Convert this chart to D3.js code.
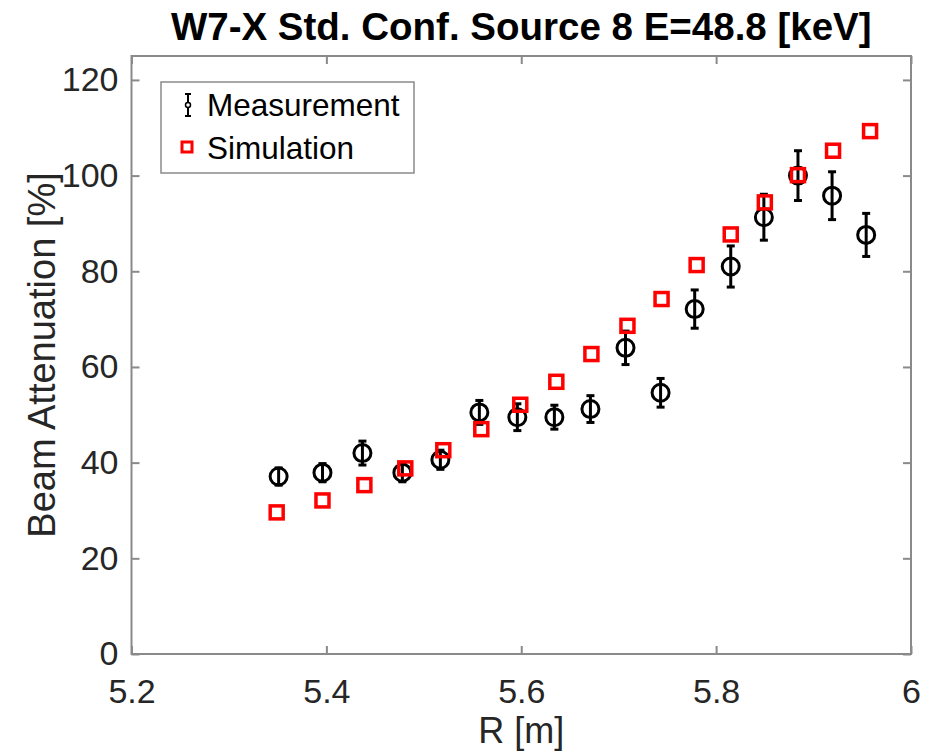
<!DOCTYPE html>
<html>
<head>
<meta charset="utf-8">
<script src="https://cdn.jsdelivr.net/npm/d3@7"></script>
<style>
  body { margin: 0; background: #fff; }
  svg { font-family: "Liberation Sans", Arial, Helvetica, sans-serif; }
</style>
</head>
<body>
<svg id="chart" width="928" height="753"></svg>
<script>
// measurement points (R in m, attenuation in %, +/- error)
const measR = [5.351, 5.396, 5.437, 5.478, 5.517, 5.557, 5.596, 5.634, 5.671, 5.707, 5.743, 5.778, 5.815, 5.849, 5.884, 5.919, 5.954];
const measVal = [37.1, 37.9, 42.0, 37.9, 40.6, 50.5, 49.5, 49.5, 51.2, 64.0, 54.6, 72.1, 81.0, 91.3, 100.0, 95.8, 87.6];
const measErr = [1.8, 1.9, 2.5, 1.9, 2.0, 2.5, 2.8, 2.5, 2.8, 3.5, 3.0, 4.0, 4.3, 4.8, 5.2, 5.0, 4.5];

// simulation points
const simR = [5.349, 5.396, 5.439, 5.481, 5.520, 5.559, 5.599, 5.636, 5.672, 5.709, 5.744, 5.780, 5.815, 5.850, 5.884, 5.920, 5.958];
const simVal = [29.6, 32.1, 35.3, 38.8, 42.6, 47.0, 52.1, 56.9, 62.7, 68.6, 74.2, 81.3, 87.7, 94.4, 100.1, 105.2, 109.3];

// ticks
const xTicks = [5.2, 5.4, 5.6, 5.8, 6];
const xTickLabels = ["5.2", "5.4", "5.6", "5.8", "6"];
const yTicks = [0, 20, 40, 60, 80, 100, 120];
const yTickLabels = ["0", "20", "40", "60", "80", "100", "120"];

const svg = d3.select("#chart");
const pLeft = 131.5, pRight = 911, pTop = 56, pBottom = 654;

const x = d3.scaleLinear().domain([5.2, 6]).range([pLeft, pRight]);
const y = d3.scaleLinear().domain([0, 125]).range([pBottom, pTop]);

const tickColor = "#262626";
const axisGray = "#8a8a8a";

// axes (ticks pointing inward, like matlab)
const xAxis = svg.append("g")
    .attr("transform", `translate(0,${pBottom})`)
    .call(d3.axisBottom(x).tickValues(xTicks)
        .tickFormat((d, i) => xTickLabels[i])
        .tickSizeInner(-8).tickSizeOuter(0).tickPadding(25));
const yAxis = svg.append("g")
    .attr("transform", `translate(${pLeft},0)`)
    .call(d3.axisLeft(y).tickValues(yTicks)
        .tickFormat((d, i) => yTickLabels[i])
        .tickSizeInner(-8).tickSizeOuter(0).tickPadding(13));
const xTop = svg.append("g")
    .attr("transform", `translate(0,${pTop})`)
    .call(d3.axisTop(x).tickValues(xTicks).tickFormat("").tickSizeInner(-8).tickSizeOuter(0));
const yRight = svg.append("g")
    .attr("transform", `translate(${pRight},0)`)
    .call(d3.axisRight(y).tickValues(yTicks).tickFormat("").tickSizeInner(-8).tickSizeOuter(0));

[xAxis, yAxis, xTop, yRight].forEach(g => {
    g.select(".domain").remove();
    g.selectAll(".tick line").attr("stroke", axisGray).attr("stroke-width", 2);
    g.selectAll(".tick text")
        .attr("fill", tickColor)
        .style("font-size", "34px");
});
xAxis.selectAll(".tick text").attr("dy", "0.71em");

// box
svg.append("rect")
    .attr("x", pLeft).attr("y", pTop)
    .attr("width", pRight - pLeft).attr("height", pBottom - pTop)
    .attr("fill", "none")
    .attr("stroke", axisGray)
    .attr("stroke-width", 2);

// measurement error bars
const meas = measR.map((r, i) => ({ r: r, v: measVal[i], e: measErr[i] }));
const mg = svg.append("g");
const capW = 4;
mg.selectAll("line.bar")
    .data(meas)
    .enter().append("line")
    .attr("class", "bar")
    .attr("x1", d => x(d.r)).attr("x2", d => x(d.r))
    .attr("y1", d => y(d.v - d.e)).attr("y2", d => y(d.v + d.e))
    .attr("stroke", "#000").attr("stroke-width", 3);
mg.selectAll("line.capTop")
    .data(meas)
    .enter().append("line")
    .attr("class", "capTop")
    .attr("x1", d => x(d.r) - capW).attr("x2", d => x(d.r) + capW)
    .attr("y1", d => y(d.v + d.e)).attr("y2", d => y(d.v + d.e))
    .attr("stroke", "#000").attr("stroke-width", 3);
mg.selectAll("line.capBot")
    .data(meas)
    .enter().append("line")
    .attr("class", "capBot")
    .attr("x1", d => x(d.r) - capW).attr("x2", d => x(d.r) + capW)
    .attr("y1", d => y(d.v - d.e)).attr("y2", d => y(d.v - d.e))
    .attr("stroke", "#000").attr("stroke-width", 3);
mg.selectAll("circle")
    .data(meas)
    .enter().append("circle")
    .attr("cx", d => x(d.r))
    .attr("cy", d => y(d.v))
    .attr("r", 8.5)
    .attr("fill", "none")
    .attr("stroke", "#000")
    .attr("stroke-width", 3);

// simulation squares
const sim = simR.map((r, i) => ({ r: r, v: simVal[i] }));
const sq = 13;
svg.append("g").selectAll("rect")
    .data(sim)
    .enter().append("rect")
    .attr("x", d => x(d.r) - sq / 2)
    .attr("y", d => y(d.v) - sq / 2)
    .attr("width", sq).attr("height", sq)
    .attr("fill", "none")
    .attr("stroke", "#ff0000")
    .attr("stroke-width", 3.5);

// title and labels
svg.append("text")
    .attr("x", (pLeft + pRight) / 2).attr("y", 40)
    .attr("text-anchor", "middle")
    .style("font-size", "38.5px")
    .style("font-weight", "bold")
    .attr("fill", "#000")
    .text("W7-X Std. Conf. Source 8 E=48.8 [keV]");

svg.append("text")
    .attr("x", (pLeft + pRight) / 2).attr("y", 743)
    .attr("text-anchor", "middle")
    .style("font-size", "36px")
    .attr("fill", tickColor)
    .text("R [m]");

svg.append("text")
    .attr("transform", `translate(55,${(pTop + pBottom) / 2}) rotate(-90)`)
    .attr("text-anchor", "middle")
    .style("font-size", "38px")
    .attr("fill", tickColor)
    .text("Beam Attenuation [%]");

// legend
const lg = svg.append("g");
lg.append("rect")
    .attr("x", 161).attr("y", 82)
    .attr("width", 253).attr("height", 91)
    .attr("fill", "#fff")
    .attr("stroke", axisGray)
    .attr("stroke-width", 1.5);
lg.append("line")
    .attr("x1", 188).attr("x2", 188).attr("y1", 94).attr("y2", 116)
    .attr("stroke", "#000").attr("stroke-width", 2);
lg.append("line")
    .attr("x1", 185).attr("x2", 191).attr("y1", 94).attr("y2", 94)
    .attr("stroke", "#000").attr("stroke-width", 2);
lg.append("line")
    .attr("x1", 185).attr("x2", 191).attr("y1", 116).attr("y2", 116)
    .attr("stroke", "#000").attr("stroke-width", 2);
lg.append("circle")
    .attr("cx", 188).attr("cy", 105).attr("r", 2.5)
    .attr("fill", "#fff").attr("stroke", "#000").attr("stroke-width", 1.5);
lg.append("rect")
    .attr("x", 182).attr("y", 142).attr("width", 10).attr("height", 10)
    .attr("fill", "none").attr("stroke", "#ff0000").attr("stroke-width", 3);
lg.append("text")
    .attr("x", 207).attr("y", 116)
    .style("font-size", "31.5px")
    .attr("fill", "#000")
    .text("Measurement");
lg.append("text")
    .attr("x", 207).attr("y", 159)
    .style("font-size", "31.5px")
    .attr("fill", "#000")
    .text("Simulation");
</script>
</body>
</html>
